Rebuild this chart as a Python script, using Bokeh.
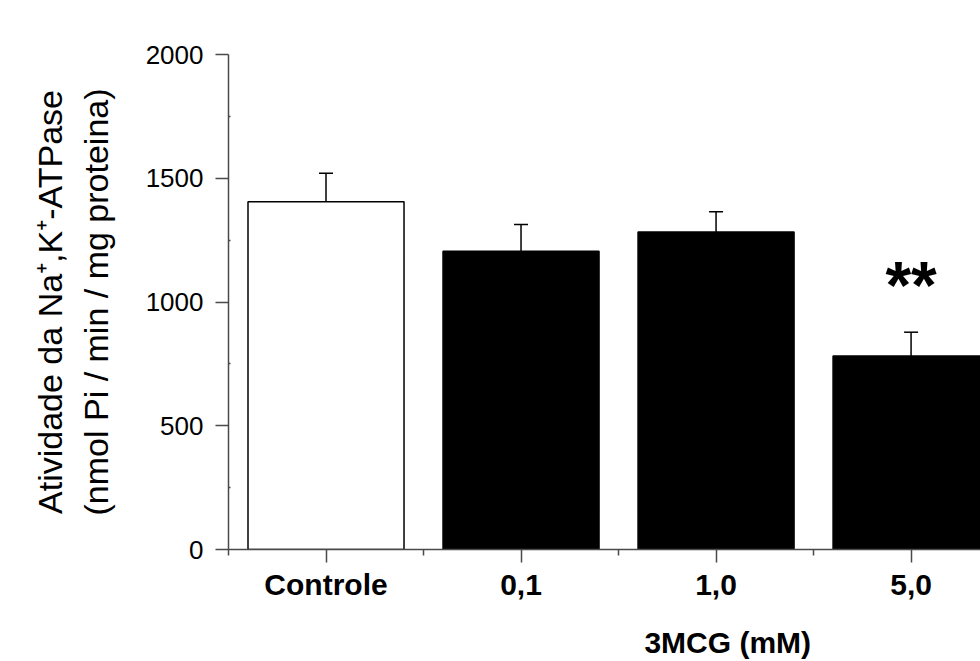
from bokeh.plotting import figure
from bokeh.models import (Range1d, FixedTicker, Whisker, ColumnDataSource,
                          TeeHead, LinearAxis)
from bokeh.embed import file_html
from bokeh.resources import INLINE
from bokeh.core.properties import value

# ---- data ----
groups = ["Controle", "0,1", "1,0", "5,0"]
means = [1405, 1205, 1283, 782]
errors = [115, 108, 82, 96]
fills = ["white", "black", "black", "black"]
y_ticks = [0, 500, 1000, 1500, 2000]
y_minor = [250, 750, 1250, 1750]
sig_index = 3
sig_text = "**"
x_title = "3MCG (mM)"
y_title = "Atividade da Na\u207a,K\u207a-ATPase\n(nmol Pi / min / mg proteina)"

FONT = "Liberation Sans"
AX = "#4a4a4a"

xpos = [i + 0.5 for i in range(len(groups))]
src = ColumnDataSource(dict(
    x=xpos, top=means, fill=fills,
    upper=[m + e for m, e in zip(means, errors)],
    lower=[m - e for m, e in zip(means, errors)],
))

p = figure(width=980, height=661,
           x_range=Range1d(0, 3.856), y_range=Range1d(0, 2000),
           output_backend="svg", toolbar_location=None,
           min_border_left=228, min_border_right=0,
           min_border_top=54, min_border_bottom=111,
           outline_line_color=None)
p.xgrid.visible = False
p.ygrid.visible = False

p.vbar(x="x", top="top", bottom=0, width=0.8, fill_color="fill",
       line_color="black", line_width=1.5, source=src)

w = Whisker(base="x", upper="upper", lower="lower", source=src,
            line_color="black", line_width=1.5,
            upper_head=TeeHead(size=14, line_color="black", line_width=1.5),
            lower_head=TeeHead(size=14, line_color="black", line_width=1.5))
p.add_layout(w)

sig_src = ColumnDataSource(dict(x=[xpos[sig_index]],
                                y=[means[sig_index] + errors[sig_index] + 192],
                                t=[sig_text]))
p.text(x="x", y="y", text="t", source=sig_src, text_font=value(FONT),
       text_font_size="66px", text_font_style="bold", text_color="black",
       text_align="center", text_baseline="alphabetic")

# x axis
xa = p.xaxis[0]
xa.ticker = FixedTicker(ticks=xpos, minor_ticks=list(range(len(groups))))
xa.major_label_overrides = {x: g for x, g in zip(xpos, groups)}
xa.axis_line_color = AX
xa.axis_line_width = 1.5
xa.major_tick_line_color = AX
xa.minor_tick_line_color = AX
xa.major_tick_line_width = 1.5
xa.minor_tick_line_width = 1.5
xa.major_tick_out = 13
xa.major_tick_in = 0
xa.minor_tick_out = 6
xa.minor_tick_in = 0
xa.major_label_text_font = FONT
xa.major_label_text_font_size = "30px"
xa.major_label_text_font_style = "bold"
xa.major_label_text_color = "black"
xa.major_label_standoff = 5

# x-axis title, placed as a label-only axis below the main one
title_pos = 2.56
ta = LinearAxis(ticker=FixedTicker(ticks=[title_pos], minor_ticks=[]),
                major_label_overrides={title_pos: x_title})
ta.axis_line_color = None
ta.major_tick_line_color = None
ta.minor_tick_line_color = None
ta.major_tick_out = 0
ta.major_tick_in = 0
ta.minor_tick_out = 0
ta.minor_tick_in = 0
ta.major_label_standoff = 22
ta.major_label_text_font = FONT
ta.major_label_text_font_size = "30px"
ta.major_label_text_font_style = "bold"
ta.major_label_text_color = "black"
p.add_layout(ta, "below")

# y axis
ya = p.yaxis[0]
ya.ticker = FixedTicker(ticks=y_ticks, minor_ticks=y_minor)
ya.axis_line_color = AX
ya.axis_line_width = 1.5
ya.major_tick_line_color = AX
ya.minor_tick_line_color = AX
ya.major_tick_line_width = 1.5
ya.minor_tick_line_width = 1.5
ya.major_tick_out = 13
ya.major_tick_in = 0
ya.minor_tick_out = 0
ya.minor_tick_in = 2
ya.major_label_text_font = FONT
ya.major_label_text_font_size = "26px"
ya.major_label_text_color = "black"
ya.major_label_standoff = 12
ya.axis_label = y_title
ya.axis_label_text_font = FONT
ya.axis_label_text_font_size = "34px"
ya.axis_label_text_font_style = "normal"
ya.axis_label_text_color = "black"
ya.axis_label_standoff = 28

open("out.html", "w").write(file_html(p, INLINE))
